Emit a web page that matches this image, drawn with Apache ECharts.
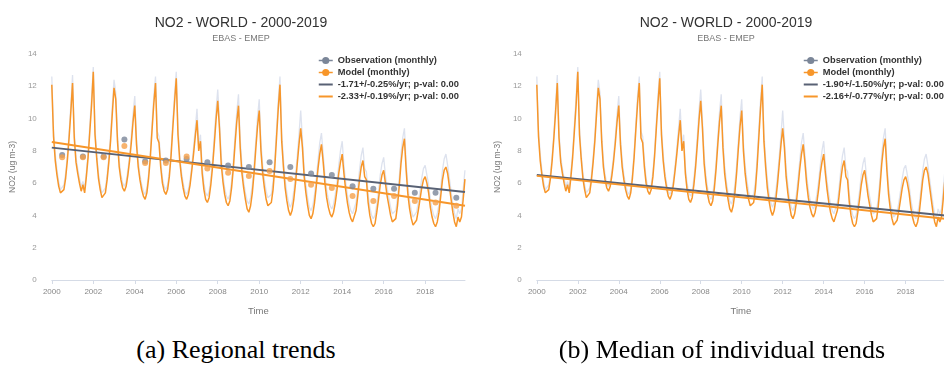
<!DOCTYPE html>
<html>
<head>
<meta charset="utf-8">
<script src="https://cdn.jsdelivr.net/npm/echarts@6/dist/echarts.min.js"></script>
<style>
  html, body { margin: 0; padding: 0; background: #fff; width: 944px; height: 372px; overflow: hidden; }
  #wrap { position: relative; width: 944px; height: 372px; overflow: hidden; }
  #ca { position: absolute; left: 0; top: 0; width: 500px; height: 322px; }
  #cb { position: absolute; left: 485px; top: 0; width: 500px; height: 322px; }
  .cap { position: absolute; top: 335px; font-family: "Liberation Serif", "DejaVu Serif", serif; font-size: 26px; color: #000; white-space: nowrap; transform: translateX(-50%); }
</style>
</head>
<body>
<div id="wrap">
  <div id="ca"></div>
  <div id="cb"></div>
  <div class="cap" style="left:236px">(a) Regional trends</div>
  <div class="cap" style="left:722px">(b) Median of individual trends</div>
</div>
<script>
// ---- data (monthly, Jan 2000 .. Dec 2019) ----
const startYear = 2000;
const titleText = 'NO2 - WORLD - 2000-2019';
const subtitleText = 'EBAS - EMEP';
const xAxisName = 'Time';
const yAxisName = 'NO2 (ug m-3)';

const modelMonthly = [
  12.1, 8.9, 7.4, 6.5, 5.8, 5.4, 5.3, 5.6, 6.3, 7.4, 8.8, 10.4,
  12.2, 8.8, 7.3, 6.6, 6.0, 5.5, 5.9, 5.4, 6.4, 7.6, 9.2, 10.8,
  12.9, 9.0, 7.5, 6.3, 5.6, 5.1, 5.0, 5.4, 6.2, 7.3, 8.6, 10.3,
  11.9, 11.2, 8.6, 7.0, 6.2, 5.7, 5.5, 5.8, 6.5, 7.4, 8.5, 9.8,
  10.8, 8.4, 7.0, 6.2, 5.6, 5.2, 5.0, 5.4, 6.3, 7.6, 9.3, 10.9,
  12.2, 8.8, 8.5, 7.0, 6.0, 5.5, 5.3, 5.6, 6.4, 7.7, 9.4, 11.0,
  12.5, 9.0, 7.4, 6.4, 5.7, 5.2, 5.0, 5.3, 5.9, 6.8, 7.8, 8.9,
  9.9, 8.0, 8.6, 6.6, 5.6, 5.0, 4.8, 5.1, 5.9, 7.0, 8.4, 9.9,
  11.1, 9.4, 7.2, 6.1, 5.3, 4.8, 4.6, 4.9, 5.7, 6.9, 8.4, 9.8,
  10.8, 8.2, 6.6, 5.7, 5.0, 4.4, 4.2, 4.6, 5.4, 6.6, 8.1, 9.5,
  10.5, 8.0, 6.6, 5.7, 5.0, 4.6, 4.5, 4.8, 5.6, 7.0, 8.8, 10.6,
  12.1, 8.6, 7.0, 5.7, 4.9, 4.3, 4.0, 4.3, 5.0, 6.0, 7.2, 8.4,
  9.4, 8.2, 6.4, 5.4, 4.6, 4.0, 3.8, 4.1, 4.8, 5.8, 6.9, 7.8,
  8.4, 7.3, 6.0, 5.1, 4.5, 4.1, 3.9, 4.2, 4.8, 5.6, 6.6, 7.3,
  7.8, 6.6, 5.6, 4.8, 4.2, 3.8, 3.6, 3.7, 4.3, 5.2, 6.2, 7.0,
  7.4, 6.4, 6.2, 4.8, 4.0, 3.5, 3.3, 3.5, 4.2, 5.0, 5.9, 6.5,
  6.8, 6.0, 5.2, 4.6, 4.0, 3.6, 3.5, 3.8, 4.6, 5.8, 7.2, 8.2,
  8.75, 6.8, 5.3, 4.4, 3.8, 3.4, 3.35, 3.7, 4.3, 5.0, 5.7, 6.2,
  6.4, 6.0, 5.4, 4.5, 3.9, 3.5, 3.3, 3.6, 4.2, 5.2, 6.2, 6.8,
  7.0, 6.6, 6.6, 5.0, 4.2, 3.6, 3.3, 3.9, 3.6, 3.9, 5.0, 6.25
];

const obsMonthly = [
  12.6, 9.3, 7.8, 6.8, 6.1, 5.6, 5.5, 5.9, 6.6, 7.7, 9.1, 10.8,
  12.7, 9.2, 7.6, 6.9, 6.3, 5.8, 6.1, 5.7, 6.7, 7.9, 9.6, 11.3,
  13.2, 9.4, 7.8, 6.6, 5.9, 5.4, 5.3, 5.7, 6.5, 7.6, 9.0, 10.8,
  12.4, 11.6, 9.0, 7.4, 6.5, 6.0, 5.8, 6.1, 6.8, 7.7, 8.9, 10.3,
  11.4, 8.8, 7.4, 6.5, 5.9, 5.5, 5.3, 5.7, 6.6, 7.9, 9.7, 11.4,
  12.6, 9.2, 8.9, 7.4, 6.3, 5.8, 5.6, 5.9, 6.7, 8.0, 9.8, 11.5,
  12.9, 9.4, 7.8, 6.7, 6.0, 5.5, 5.3, 5.6, 6.2, 7.1, 8.2, 9.4,
  10.6, 8.4, 9.0, 7.0, 6.0, 5.4, 5.2, 5.5, 6.3, 7.4, 8.9, 10.5,
  11.8, 9.9, 7.7, 6.5, 5.7, 5.2, 5.0, 5.3, 6.1, 7.3, 8.9, 10.4,
  11.5, 8.7, 7.1, 6.1, 5.4, 4.9, 4.7, 5.1, 5.9, 7.1, 8.6, 10.1,
  11.2, 8.5, 7.1, 6.2, 5.5, 5.1, 5.0, 5.3, 6.1, 7.5, 9.3, 11.1,
  12.6, 9.1, 7.5, 6.2, 5.4, 4.8, 4.5, 4.8, 5.5, 6.5, 7.7, 9.0,
  10.5, 8.7, 6.9, 5.9, 5.1, 4.5, 4.3, 4.6, 5.3, 6.3, 7.4, 8.5,
  9.1, 7.8, 6.5, 5.6, 5.0, 4.6, 4.4, 4.7, 5.3, 6.1, 7.1, 8.0,
  8.6, 7.1, 6.1, 5.3, 4.7, 4.3, 4.1, 4.2, 4.8, 5.7, 6.8, 7.7,
  8.2, 6.9, 6.7, 5.3, 4.5, 4.0, 3.8, 4.0, 4.7, 5.5, 6.5, 7.2,
  7.6, 6.5, 5.7, 5.1, 4.5, 4.1, 4.0, 4.3, 5.1, 6.3, 7.8, 8.8,
  9.4, 7.3, 5.8, 4.9, 4.3, 3.9, 3.8, 4.2, 4.8, 5.5, 6.3, 6.9,
  7.1, 6.5, 5.9, 5.0, 4.4, 4.0, 3.8, 4.1, 4.7, 5.7, 6.8, 7.5,
  7.8, 7.1, 7.0, 5.5, 4.7, 4.1, 3.8, 4.4, 4.1, 4.4, 5.6, 6.8
];

// yearly means (panel a markers), plotted mid-year
const obsYearly   = [7.75, 7.65, 7.65, 8.7, 7.35, 7.4, 7.5, 7.3, 7.1, 7.0, 7.3, 7.0, 6.6, 6.5, 5.8, 5.65, 5.65, 5.4, 5.4, 5.1];
const modelYearly = [7.6, 7.6, 7.6, 8.3, 7.25, 7.25, 7.65, 6.9, 6.65, 6.45, 6.75, 6.25, 5.9, 5.7, 5.2, 4.9, 5.2, 4.9, 4.8, 4.6];

// trend line values at start and end of period
const trendYears  = [2000, 2019.92];
const trendObsA   = [8.2, 5.45];
const trendModelA = [8.55, 4.6];
const trendObsB   = [6.5, 4.0];
const trendModelB = [6.45, 3.8];

const legendObs   = 'Observation (monthly)';
const legendModel = 'Model (monthly)';
const legendTrendA = ['-1.71+/-0.25%/yr; p-val: 0.00', '-2.33+/-0.19%/yr; p-val: 0.00'];
const legendTrendB = ['-1.90+/-1.50%/yr; p-val: 0.00', '-2.16+/-0.77%/yr; p-val: 0.00'];

// ---- build ----
const C_OBS_TREND = '#586174';
const C_OBS_DOT = '#7b8698';
const C_ORANGE = '#f7962a';
const C_OBS_LINE = 'rgba(165,180,210,0.38)';
const FONT = 'Liberation Sans, Arial, sans-serif';
const LINE_ICON = 'path://M0,0H14V2H0Z';

function monthlyPairs(arr) { return arr.map((v, i) => [startYear + i / 12, v]); }
function yearlyPairs(arr) { return arr.map((v, i) => [startYear + i + 0.5, v]); }
function trendPairs(arr) { return arr.map((v, i) => [trendYears[i], v]); }

function makeOption(trendObs, trendModel, trendNames, withDots, gridRight) {
  const series = [
    { name: legendObs, type: 'line', data: monthlyPairs(obsMonthly), symbol: 'circle', symbolSize: 5, showSymbol: false,
      lineStyle: { color: C_OBS_LINE, width: 1.3 }, itemStyle: { color: C_OBS_DOT }, z: 1, silent: true },
    { name: legendModel, type: 'line', data: monthlyPairs(modelMonthly), symbol: 'circle', symbolSize: 5, showSymbol: false,
      lineStyle: { color: C_ORANGE, width: 1.5 }, itemStyle: { color: C_ORANGE }, z: 2, silent: true },
    { name: trendNames[0], type: 'line', data: trendPairs(trendObs), symbol: 'none',
      lineStyle: { color: C_OBS_TREND, width: 2 }, itemStyle: { color: C_OBS_TREND }, z: 3, silent: true },
    { name: trendNames[1], type: 'line', data: trendPairs(trendModel), symbol: 'none',
      lineStyle: { color: C_ORANGE, width: 2 }, itemStyle: { color: C_ORANGE }, z: 4, silent: true }
  ];
  if (withDots) {
    series.push({ name: 'obsYear', type: 'scatter', data: yearlyPairs(obsYearly), symbolSize: 6,
      itemStyle: { color: C_OBS_DOT }, z: 5, silent: true });
    series.push({ name: 'modelYear', type: 'scatter', data: yearlyPairs(modelYearly), symbolSize: 6,
      itemStyle: { color: '#f5a04a' }, z: 6, silent: true });
  }
  return {
    animation: false,
    backgroundColor: '#fff',
    title: {
      text: titleText, subtext: subtitleText, left: 236, textAlign: 'center', top: 11, itemGap: 4,
      textStyle: { fontFamily: FONT, fontSize: 14, fontWeight: 'normal', color: '#333' },
      subtextStyle: { fontFamily: FONT, fontSize: 9, color: '#777' }
    },
    legend: {
      orient: 'vertical', left: 313, top: 51, itemGap: 3, itemWidth: 14, itemHeight: 9,
      selectedMode: false,
      textStyle: { fontFamily: FONT, fontSize: 9.3, fontWeight: 'bold', color: '#333', lineHeight: 9 },
      data: [
        { name: legendObs, itemStyle: { color: C_OBS_DOT }, lineStyle: { color: C_OBS_DOT, width: 1.5 } },
        { name: legendModel, itemStyle: { color: C_ORANGE }, lineStyle: { color: C_ORANGE, width: 1.5 } },
        { name: trendNames[0], icon: LINE_ICON, itemStyle: { color: C_OBS_TREND } },
        { name: trendNames[1], icon: LINE_ICON, itemStyle: { color: C_ORANGE } }
      ]
    },
    grid: { left: 48, right: gridRight, top: 54, bottom: 42, containLabel: false },
    xAxis: {
      type: 'value', min: 2000, max: 2019.92, interval: 2,
      name: xAxisName, nameLocation: 'middle', nameGap: 26,
      nameTextStyle: { fontFamily: FONT, fontSize: 9.5, color: '#777' },
      axisLine: { show: true, lineStyle: { color: '#d5dbe6', width: 1 } },
      axisTick: { show: true, length: 4, lineStyle: { color: '#d5dbe6' } },
      axisLabel: { fontFamily: FONT, fontSize: 8, color: '#888', margin: 8, showMaxLabel: false,
        formatter: v => (Math.abs(v - Math.round(v)) < 1e-6 ? String(Math.round(v)) : '') },
      splitLine: { show: false }
    },
    yAxis: {
      type: 'value', min: 0, max: 14, interval: 2,
      name: yAxisName, nameLocation: 'middle', nameGap: 26, nameRotate: 90,
      nameTextStyle: { fontFamily: FONT, fontSize: 8.5, color: '#777' },
      axisLine: { show: false }, axisTick: { show: false },
      axisLabel: { fontFamily: FONT, fontSize: 8, color: '#999', margin: 15 },
      splitLine: { show: false }
    },
    series: series
  };
}

const chartA = echarts.init(document.getElementById('ca'), null, { renderer: 'canvas' });
chartA.setOption(makeOption(trendObsA, trendModelA, legendTrendA, true, 35));
const chartB = echarts.init(document.getElementById('cb'), null, { renderer: 'canvas' });
chartB.setOption(makeOption(trendObsB, trendModelB, legendTrendB, false, 40));
</script>
</body>
</html>
